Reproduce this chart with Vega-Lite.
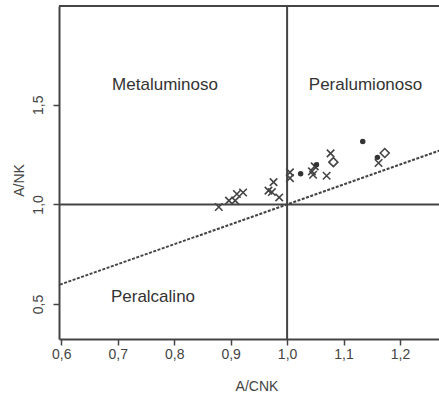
{
  "$schema": "https://vega.github.io/schema/vega-lite/v6.json",
  "width": 380,
  "height": 333,
  "autosize": {"type": "none"},
  "padding": {"left": 59, "top": 6, "right": 0, "bottom": 57},
  "background": "white",
  "config": {"view": {"stroke": null}, "font": "Liberation Sans"},
  "datasets": {
    "samples": [
      {"tipo": "x", "A_CNK": 0.879, "A_NK": 0.987},
      {"tipo": "x", "A_CNK": 0.897, "A_NK": 1.019},
      {"tipo": "x", "A_CNK": 0.908, "A_NK": 1.019},
      {"tipo": "x", "A_CNK": 0.911, "A_NK": 1.052},
      {"tipo": "x", "A_CNK": 0.922, "A_NK": 1.060},
      {"tipo": "x", "A_CNK": 0.967, "A_NK": 1.069},
      {"tipo": "x", "A_CNK": 0.973, "A_NK": 1.062},
      {"tipo": "x", "A_CNK": 0.976, "A_NK": 1.112},
      {"tipo": "x", "A_CNK": 0.986, "A_NK": 1.035},
      {"tipo": "x", "A_CNK": 1.005, "A_NK": 1.161},
      {"tipo": "x", "A_CNK": 1.005, "A_NK": 1.132},
      {"tipo": "x", "A_CNK": 1.049, "A_NK": 1.191},
      {"tipo": "x", "A_CNK": 1.044, "A_NK": 1.166},
      {"tipo": "x", "A_CNK": 1.046, "A_NK": 1.149},
      {"tipo": "x", "A_CNK": 1.070, "A_NK": 1.144},
      {"tipo": "x", "A_CNK": 1.077, "A_NK": 1.256},
      {"tipo": "x", "A_CNK": 1.162, "A_NK": 1.208},
      {"tipo": "dot", "A_CNK": 1.024, "A_NK": 1.154},
      {"tipo": "dot", "A_CNK": 1.052, "A_NK": 1.199},
      {"tipo": "dot", "A_CNK": 1.134, "A_NK": 1.316},
      {"tipo": "dot", "A_CNK": 1.160, "A_NK": 1.236},
      {"tipo": "diamond", "A_CNK": 1.082, "A_NK": 1.212},
      {"tipo": "diamond", "A_CNK": 1.173, "A_NK": 1.258}
    ],
    "ref": [
      {"A_CNK": 0.59, "A_NK": 0.59},
      {"A_CNK": 1.28, "A_NK": 1.28}
    ],
    "cuts": [
      {"eje": "v", "valor": 1.0},
      {"eje": "h", "valor": 1.0},
      {"eje": "top", "valor": 1.9955}
    ],
    "labels": [
      {"A_CNK": 0.7837, "A_NK": 1.5755, "nombre": "Metaluminoso"},
      {"A_CNK": 1.1389, "A_NK": 1.5755, "nombre": "Peralumionoso"},
      {"A_CNK": 0.7624, "A_NK": 0.5118, "nombre": "Peralcalino"}
    ]
  },
  "layer": [
    {
      "data": {"name": "ref"},
      "mark": {"type": "line", "clip": true, "color": "#444444", "strokeWidth": 2, "strokeDash": [3, 1.5]},
      "encoding": {
        "x": {
          "field": "A_CNK", "type": "quantitative",
          "scale": {"domain": [0.5959, 1.2691], "nice": false, "zero": false},
          "axis": {
            "title": "A/CNK", "values": [0.6, 0.7, 0.8, 0.9, 1.0, 1.1, 1.2],
            "labelExpr": "replace(format(datum.value, '.1f'), '.', ',')",
            "grid": false, "domainColor": "#444444", "domainWidth": 2,
            "tickColor": "#444444", "tickWidth": 1.5, "tickSize": 6,
            "labelFontSize": 14, "labelColor": "#444444", "labelPadding": 2, "labelFlush": false,
            "titleFontSize": 14, "titleFontWeight": "normal", "titleColor": "#444444",
            "titleX": 197.5, "titleY": 51, "titleBaseline": "alphabetic", "titleAlign": "center"
          }
        },
        "y": {
          "field": "A_NK", "type": "quantitative",
          "scale": {"domain": [0.3247, 1.9955], "nice": false, "zero": false},
          "axis": {
            "title": "A/NK", "values": [0.5, 1.0, 1.5],
            "labelExpr": "replace(format(datum.value, '.1f'), '.', ',')",
            "grid": false, "domainColor": "#444444", "domainWidth": 2,
            "tickColor": "#444444", "tickWidth": 1.5, "tickSize": 6,
            "labelFontSize": 14, "labelColor": "#444444", "labelPadding": 11,
            "labelAngle": 270, "labelAlign": "center", "labelBaseline": "alphabetic",
            "titleFontSize": 14, "titleFontWeight": "normal", "titleColor": "#444444",
            "titleAngle": 270, "titleX": -36, "titleY": 174, "titleBaseline": "alphabetic", "titleAlign": "center"
          }
        }
      }
    },
    {
      "data": {"name": "cuts"},
      "transform": [{"filter": "datum.eje === 'v'"}],
      "mark": {"type": "rule", "color": "#444444", "strokeWidth": 2},
      "encoding": {"x": {"field": "valor", "type": "quantitative"}}
    },
    {
      "data": {"name": "cuts"},
      "transform": [{"filter": "datum.eje !== 'v'"}],
      "mark": {"type": "rule", "color": "#444444", "strokeWidth": 2},
      "encoding": {"y": {"field": "valor", "type": "quantitative"}}
    },
    {
      "data": {"name": "samples"},
      "transform": [{"filter": "datum.tipo === 'x'"}],
      "mark": {"type": "point", "shape": "M-1,-1L1,1M1,-1L-1,1", "filled": false, "color": "#444444", "strokeWidth": 1.6, "size": 56, "opacity": 1},
      "encoding": {
        "x": {"field": "A_CNK", "type": "quantitative"},
        "y": {"field": "A_NK", "type": "quantitative"}
      }
    },
    {
      "data": {"name": "samples"},
      "transform": [{"filter": "datum.tipo === 'dot'"}],
      "mark": {"type": "point", "shape": "circle", "filled": true, "color": "#333333", "size": 30, "opacity": 1},
      "encoding": {
        "x": {"field": "A_CNK", "type": "quantitative"},
        "y": {"field": "A_NK", "type": "quantitative"}
      }
    },
    {
      "data": {"name": "samples"},
      "transform": [{"filter": "datum.tipo === 'diamond'"}],
      "mark": {"type": "point", "shape": "diamond", "filled": false, "color": "#444444", "strokeWidth": 1.6, "size": 80, "opacity": 1},
      "encoding": {
        "x": {"field": "A_CNK", "type": "quantitative"},
        "y": {"field": "A_NK", "type": "quantitative"}
      }
    },
    {
      "data": {"name": "labels"},
      "mark": {"type": "text", "fontSize": 17, "color": "#333333", "align": "center", "baseline": "alphabetic"},
      "encoding": {
        "x": {"field": "A_CNK", "type": "quantitative"},
        "y": {"field": "A_NK", "type": "quantitative"},
        "text": {"field": "nombre"}
      }
    }
  ]
}
